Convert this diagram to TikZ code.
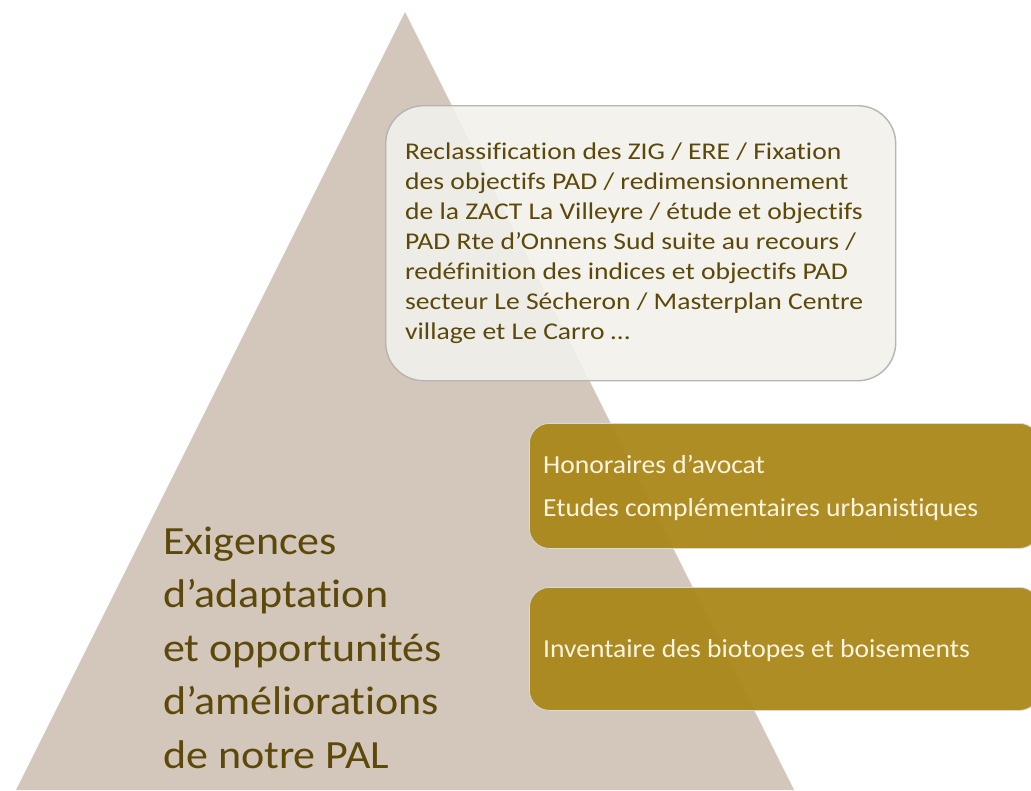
\documentclass[tikz,border=0pt]{standalone}
\usepackage{fontspec}
\setmainfont{Carlito}[Ligatures=CommonOff]
\definecolor{tricol}{HTML}{D3C6BA}
\definecolor{paleb}{HTML}{F2F1EB}
\definecolor{edgeg}{HTML}{B5B5B5}
\definecolor{goldb}{HTML}{AA871A}
\definecolor{olivet}{HTML}{5C4809}
\definecolor{creamt}{HTML}{FCF4DF}
\begin{document}
\begin{tikzpicture}[x=1pt,y=-1pt,
  paleboxst/.style={draw=edgeg,line width=1.4pt,fill=paleb,fill opacity=0.9,rounded corners=38pt,inner sep=0pt,anchor=north west},
  goldboxst/.style={draw=black!15,line width=0.8pt,fill=goldb,fill opacity=0.95,rounded corners=20pt,inner sep=0pt,anchor=north west},
  smalltxt/.style={text=olivet,font=\fontsize{24}{30}\selectfont\addfontfeature{FakeStretch=1.15},align=left,anchor=base west,inner sep=0pt},
  goldtxt/.style={text=creamt,font=\fontsize{26}{43}\selectfont\addfontfeature{FakeStretch=1.06},align=left,anchor=base west,inner sep=0pt},
  bigtxt/.style={text=olivet,font=\fontsize{40}{53.5}\selectfont\addfontfeature{FakeStretch=1.1},align=left,anchor=base west,inner sep=0pt}]
\useasboundingbox (0,0) rectangle (1031,790);
\clip (0,0) rectangle (1031,790);
\fill[white] (0,0) rectangle (1031,790);
% triangle
\coordinate (apex) at (405,12);
\coordinate (bl) at (16,790);
\coordinate (br) at (794,790);
\fill[tricol] (apex) -- (br) -- (bl) -- cycle;
% big text
\node[bigtxt] (big) at (163,768) {Exigences\\d’adaptation\\et opportunités\\d’améliorations\\de notre PAL};
% top box
\node[paleboxst,minimum width=510pt,minimum height=275pt] (b1) at (385,105) {};
\node[smalltxt] (t1) at (405,339) {Reclassification des ZIG / ERE / Fixation\\des objectifs PAD / redimensionnement\\de la ZACT La Villeyre / étude et objectifs\\PAD Rte d’Onnens Sud suite au recours /\\redéfinition des indices et objectifs PAD\\secteur Le Sécheron / Masterplan Centre\\village et Le Carro …};
% gold boxes
\node[goldboxst,minimum width=510pt,minimum height=125pt] (b2) at (529,423) {};
\node[goldtxt] (t2) at (543,516) {Honoraires d’avocat\\Etudes complémentaires urbanistiques};
\node[goldboxst,minimum width=510pt,minimum height=123pt] (b3) at (529,587) {};
\node[goldtxt] (t3) at (543,657) {Inventaire des biotopes et boisements};
\end{tikzpicture}
\end{document}
